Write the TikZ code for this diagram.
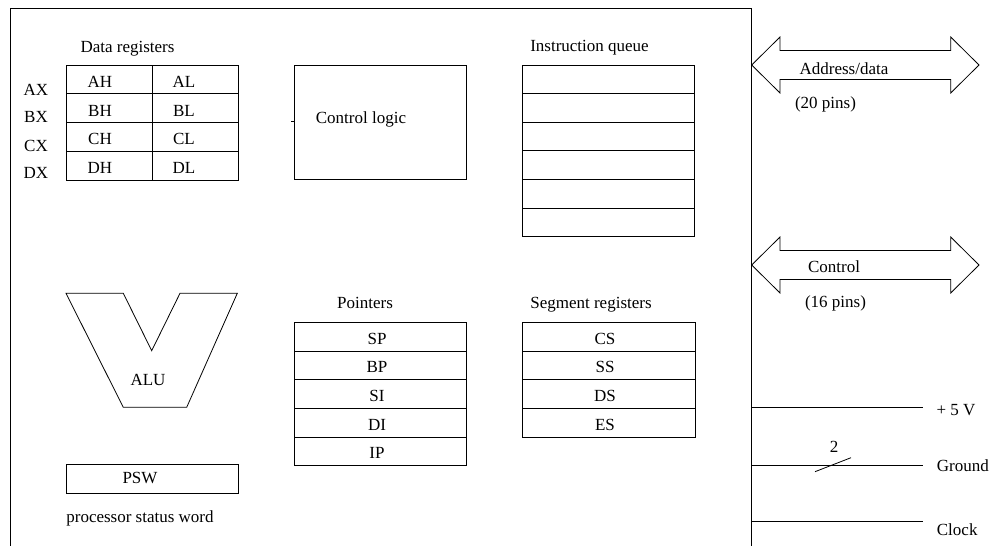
\documentclass[tikz,border=0pt]{standalone}
\usepackage{fontspec}
\setmainfont{Liberation Serif}
\begin{document}
\begin{tikzpicture}[x=1pt,y=-1pt,
  every node/.style={font=\fontsize{17}{20}\selectfont, inner sep=0pt,
                     text height=11.5pt, text depth=3.5pt},
  line/.style={draw=black, line width=0.8pt},
  regcell/.style={line, minimum width=86pt, minimum height=28.75pt, text height=, text depth=},
  widecell/.style={line, minimum width=172pt, minimum height=28.7pt, text height=, text depth=},
  qcell/.style={line, minimum width=171.5pt, minimum height=28.6pt, text height=, text depth=},
  bigbox/.style={line, minimum width=172pt, minimum height=114pt, text height=, text depth=}]
\useasboundingbox (0,0) rectangle (989,546);

% processor outline, open at the bottom
\coordinate (frameBL) at (10,546);
\coordinate (frameTL) at (10,8);
\coordinate (frameTR) at (751,8);
\coordinate (frameBR) at (751,546);
\draw[line] (frameBL) -- (frameTL) -- (frameTR) -- (frameBR);

% data registers
\node (dtitle) at (127.5,48.3) {Data registers};
\foreach \n/\xl [count=\i from 0] in {A/36,B/36,C/36,D/36} {
  \node[regcell] (\n H) at (109,{79.4+28.75*\i}) {};
  \node[regcell] (\n L) at (195,{79.4+28.75*\i}) {};
  \node (\n Ht) at (100,{83.3+28.75*\i}) {\n H};
  \node (\n Lt) at (184,{83.3+28.75*\i}) {\n L};
}
\node (AX) at (36,91.6) {AX};
\node (BX) at (36,118.6) {BX};
\node (CX) at (36,147.6) {CX};
\node (DX) at (36,174.6) {DX};

% control logic
\node[bigbox] (ctrl) at (380,122) {};
\node (ctrlt) at (361,119.6) {Control logic};
\draw[line] (ctrl.west |- 0,121) -- ++(-3,0);

% instruction queue
\node (qtitle) at (589.5,47.6) {Instruction queue};
\foreach \i in {0,...,5} {
  \node[qcell] (q\i) at (608.5,{79.3+28.6*\i}) {};
}

% ALU
\coordinate (alu1) at (66,293.3);
\coordinate (alu2) at (123.3,293.3);
\coordinate (alu3) at (151.7,350.7);
\coordinate (alu4) at (180,293.3);
\coordinate (alu5) at (237.3,293.3);
\coordinate (alu6) at (186.7,407.3);
\coordinate (alu7) at (123.3,407.3);
\draw[line, line join=miter] (alu1) -- (alu2) -- (alu3) -- (alu4) -- (alu5) -- (alu6) -- (alu7) -- cycle;
\node (alut) at (148,381.6) {ALU};

% processor status word
\node[line, minimum width=172pt, minimum height=29pt, text height=, text depth=] (psw) at (152,478.5) {};
\node (pswt) at (140,479.6) {PSW};
\node (pswd) at (140,518.3) {processor status word};

% pointers
\node (ptitle) at (365,304.9) {Pointers};
\foreach \t [count=\i from 0] in {SP,BP,SI,DI,IP} {
  \node[widecell] (p\t) at (380,{336.6+28.7*\i}) {};
  \node (p\t t) at (377,{340+28.7*\i}) {\t};
}

% segment registers
\node (stitle) at (591,304.9) {Segment registers};
\foreach \t [count=\i from 0] in {CS,SS,DS,ES} {
  \node[widecell, minimum width=172.3pt] (s\t) at (608.8,{336.6+28.7*\i}) {};
  \node (s\t t) at (605,{340+28.7*\i}) {\t};
}

% bus arrows
\draw[line, line join=miter] (751.7,65) -- (780,37) -- (780,50.5) -- (950.7,50.5) -- (950.7,37)
  -- (979,65) -- (950.7,93) -- (950.7,79.5) -- (780,79.5) -- (780,93) -- cycle;
\node (adt) at (844,70) {Address/data};
\node (adp) at (825.5,104) {(20 pins)};

\draw[line, line join=miter] (751.7,265) -- (780,237) -- (780,250.5) -- (950.7,250.5) -- (950.7,237)
  -- (979,265) -- (950.7,293) -- (950.7,279.5) -- (780,279.5) -- (780,293) -- cycle;
\node (cbt) at (834,268.3) {Control};
\node (cbp) at (835.5,303.3) {(16 pins)};

% supply and clock pins
\coordinate (vcc) at (751,407.7);
\coordinate (gnd) at (751,465);
\coordinate (clk) at (751,521.7);
\coordinate (vccE) at (922.7,407.7);
\coordinate (gndE) at (922.7,465);
\coordinate (clkE) at (922.7,521.7);
\draw[line] (vcc) -- (vccE);
\draw[line] (gnd) -- (gndE);
\draw[line] (clk) -- (clkE);
\coordinate (slashA) at (815,471.7);
\coordinate (slashB) at (851,457.7);
\draw[line] (slashA) -- (slashB);
\node (two) at (834,448.3) {2};
\node[anchor=west] (vcct) at (936.3,411) {+ 5 V};
\node[anchor=west] (gndt) at (936.7,467.6) {Ground};
\node[anchor=west] (clkt) at (936.7,531.6) {Clock};
\end{tikzpicture}
\end{document}
